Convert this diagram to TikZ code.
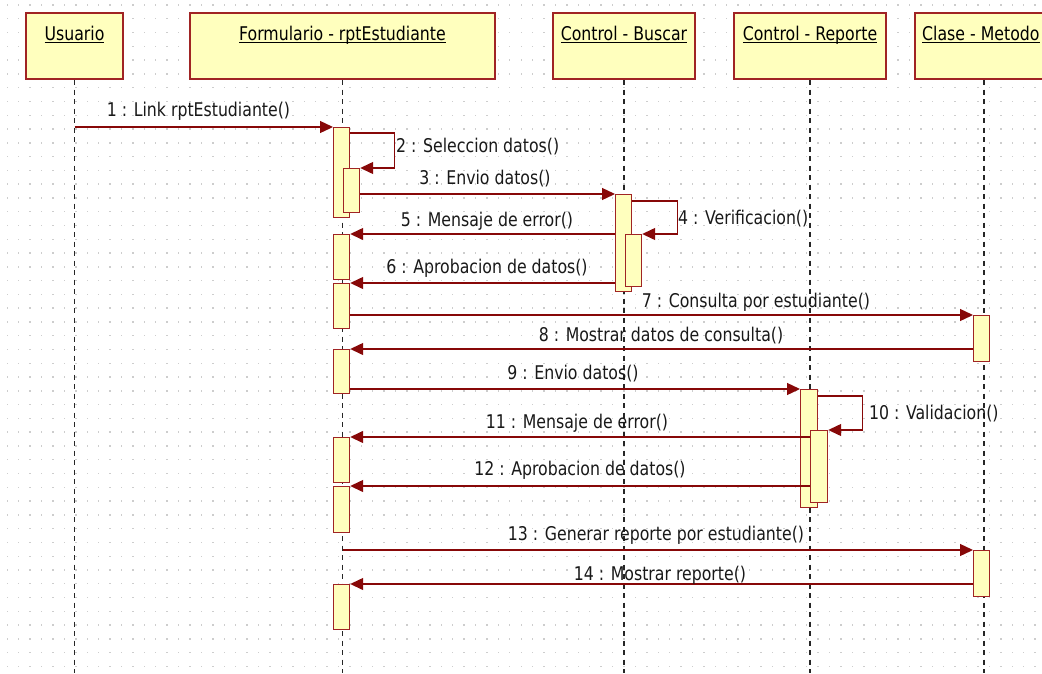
\documentclass[tikz,border=0pt]{standalone}
\usepackage{fontspec}
\usepackage{graphicx}
\setmainfont{DejaVu Sans Condensed}
\usetikzlibrary{arrows.meta}

\definecolor{umlfill}{RGB}{255,255,190}
\definecolor{umlborder}{RGB}{160,36,36}
\definecolor{msgred}{RGB}{135,8,8}
\definecolor{griddot}{RGB}{205,205,205}

% underline that sits just below the baseline (crosses descenders)
\newcommand\ulin[1]{\setbox0\hbox{#1}\rlap{\rule[-2.3pt]{\wd0}{0.9pt}}\box0}
% slightly tall lettering
\newcommand\tallt[1]{\scalebox{1}[1.08]{#1}}

\begin{document}
\begin{tikzpicture}[x=1pt,y=-1pt,
  objbox/.style={draw=umlborder, line width=2pt, fill=umlfill, anchor=north west,
                 minimum height=66pt, inner sep=0pt},
  objname/.style={font=\fontsize{17.5}{20}\selectfont, inner sep=0pt, anchor=base},
  actbar/.style={draw=umlborder, line width=1.2pt, fill=umlfill, anchor=north west,
                 minimum width=16pt, inner sep=0pt},
  lifeline/.style={draw=black!85, line width=1.6pt, dash pattern=on 5pt off 4.5pt},
  msg/.style={draw=msgred, line width=1.3pt, -{Triangle[length=13pt,width=12pt]}},
  msglabel/.style={font=\fontsize{17.5}{20}\selectfont, inner sep=0pt, text=black!90, anchor=base}
]
\useasboundingbox (0,0) rectangle (1042,673);
\begin{scope}
\clip (0,0) rectangle (1042,673);
\fill[white] (0,0) rectangle (1042,673);

% dotted background grid
\foreach \gx in {0,...,91}
  \foreach \gy in {0,...,48}
    \fill[griddot] ({7.3+11.42*\gx-0.7},{5+13.78*\gy-0.7}) rectangle ++(1.4,1.4);

% object headers
\node[objbox, minimum width=97pt]  (usuario)    at (25,12)  {};
\node[objbox, minimum width=305pt] (formulario) at (189,12) {};
\node[objbox, minimum width=142pt] (buscar)     at (552,12) {};
\node[objbox, minimum width=152pt] (reporte)    at (733,12) {};
\node[objbox, minimum width=138pt] (metodo)     at (914,12) {};

\coordinate (hdr) at (0,40);
\coordinate (bottom) at (0,673);

\node[objname] (usuarioname)    at (usuario.north |- hdr)    {\tallt{\ulin{Usuario}}};
\node[objname] (formularioname) at (formulario.north |- hdr) {\tallt{\ulin{Formulario - rptEstudiante}}};
\node[objname] (buscarname)     at (buscar.north |- hdr)     {\tallt{\ulin{Control - Buscar}}};
\node[objname] (reportename)    at (reporte.north |- hdr)    {\tallt{\ulin{Control - Reporte}}};
\node[objname, anchor=base west] (metodoname) at (922,40)    {\tallt{\ulin{Clase - Metodo}}};

% lifelines
\foreach \o in {usuario,formulario,buscar,reporte,metodo}
  \draw[lifeline] (\o.south) -- (\o.south |- bottom);

% activation bars on Formulario
\node[actbar, minimum height=90pt] (fa1)  at (333,127) {};
\node[actbar, minimum height=44pt] (fa1b) at (343,168) {};
\node[actbar, minimum height=45pt] (fa2)  at (333,234) {};
\node[actbar, minimum height=45pt] (fa3)  at (333,283) {};
\node[actbar, minimum height=44pt] (fa4)  at (333,349) {};
\node[actbar, minimum height=45pt] (fa5)  at (333,437) {};
\node[actbar, minimum height=46pt] (fa6)  at (333,486) {};
\node[actbar, minimum height=45pt] (fa7)  at (333,584) {};

% activation bars on Control - Buscar
\node[actbar, minimum height=97pt] (b1) at (615,194) {};
\node[actbar, minimum height=52pt] (b2) at (625,234) {};

% activation bars on Clase - Metodo
\node[actbar, minimum height=46pt] (mb1) at (973,315) {};
\node[actbar, minimum height=46pt] (mb2) at (973,550) {};

% activation bars on Control - Reporte
\node[actbar, minimum height=118pt, minimum width=17pt] (r1) at (800,389) {};

% messages
\draw[msg] (usuario.south |- fa1.north west) -- (fa1.north west);
\draw[msg] ([yshift=-6pt]fa1.north east) -- ++(44,0) |- (fa1b.north east);
\draw[msg] (fa1b.east |- b1.north west) -- (b1.north west);
\draw[msg] ([yshift=-7pt]b1.north east) -- ++(45,0) |- (b2.north east);
\draw[msg] (b1.west |- fa2.north east) -- (fa2.north east);
\draw[msg] (b1.west |- fa3.north east) -- (fa3.north east);
\draw[msg] (fa3.east |- mb1.north west) -- (mb1.north west);
\draw[msg] (mb1.west |- fa4.north east) -- (fa4.north east);
\draw[msg] (fa4.east |- r1.north west) -- (r1.north west);
\node[actbar, minimum height=72pt, minimum width=17pt] (r2) at (810,430) {};
\draw[msg] ([yshift=-7pt]r1.north east) -- ++(44,0) |- (r2.north east);
\draw[msg] (r2.west |- fa5.north east) -- (fa5.north east);
\draw[msg] (r2.west |- fa6.north east) -- (fa6.north east);
\draw[msg] (formulario.south |- mb2.north west) -- (mb2.north west);
\draw[msg] (mb2.west |- fa7.north east) -- (fa7.north east);

% message labels
\node[msglabel] (l1) at (198.5,116) {\tallt{1 : Link rptEstudiante()}};
\node[msglabel, anchor=base west] (l2) at (396,152) {\tallt{2 : Seleccion datos()}};
\node[msglabel] (l3) at (485,184) {\tallt{3 : Envio datos()}};
\node[msglabel, anchor=base west] (l4) at (678,224) {\tallt{4 : Verificacion()}};
\node[msglabel] (l5) at (487,226) {\tallt{5 : Mensaje de error()}};
\node[msglabel] (l6) at (487,273) {\tallt{6 : Aprobacion de datos()}};
\node[msglabel] (l7) at (756,307) {\tallt{7 : Consulta por estudiante()}};
\node[msglabel] (l8) at (661,341) {\tallt{8 : Mostrar datos de consulta()}};
\node[msglabel] (l9) at (573,379) {\tallt{9 : Envio datos()}};
\node[msglabel, anchor=base west] (l10) at (869,419) {\tallt{10 : Validacion()}};
\node[msglabel] (l11) at (577,428) {\tallt{11 : Mensaje de error()}};
\node[msglabel] (l12) at (580,475) {\tallt{12 : Aprobacion de datos()}};
\node[msglabel] (l13) at (656,540) {\tallt{13 : Generar reporte por estudiante()}};
\node[msglabel] (l14) at (660,580) {\tallt{14 : Mostrar reporte()}};
\end{scope}
\end{tikzpicture}
\end{document}
